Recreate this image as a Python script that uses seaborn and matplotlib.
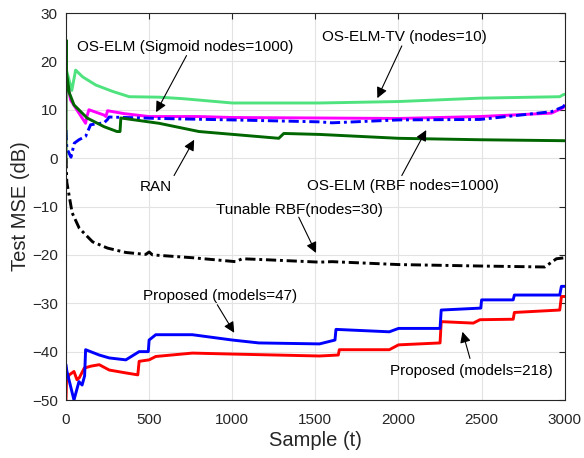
import numpy as np
import pandas as pd
import matplotlib
matplotlib.use("Agg")
import matplotlib.pyplot as plt
import seaborn as sns

# Learning curves: sample index t and test MSE in dB
tv_t = [0, 35, 58, 100, 180, 280, 380, 560, 700, 1000, 1300, 1525, 2000, 2490, 2970, 2990, 3000]
tv_v = [18.6, 14.0, 18.2, 16.8, 15.1, 13.8, 12.7, 12.6, 12.3, 11.4, 11.4, 11.4, 11.7, 12.4, 12.7, 13.1, 13.2]

sig_t = [0, 28, 78, 118, 125, 138, 229, 240, 250, 350, 500, 800, 1000, 1500, 2000, 2490, 2920, 2990, 3000]
sig_v = [16.8, 12.0, 9.3, 7.2, 8.5, 10.0, 8.9, 8.6, 9.8, 9.2, 8.6, 8.6, 8.4, 8.3, 8.2, 8.6, 9.3, 10.4, 10.8]

rbf_t = [0, 5, 30, 50, 78, 118, 148, 229, 250, 259, 560, 1000, 1525, 1600, 2000, 2490, 2920, 2990, 3000]
rbf_v = [5.8, 2.0, 0.2, 3.1, 3.8, 4.5, 6.9, 7.3, 8.0, 8.5, 8.2, 7.9, 7.5, 7.3, 7.9, 8.0, 9.6, 10.6, 11.0]

ran_t = [0, 1, 3, 20, 48, 127, 229, 307, 325, 330, 560, 800, 1280, 1310, 1525, 2000, 2490, 3000]
ran_v = [-1.0, 24.4, 17.6, 13.5, 11.0, 8.3, 6.5, 5.5, 5.5, 8.3, 7.2, 5.5, 4.1, 5.1, 4.9, 4.1, 3.8, 3.6]

tun_t = [0, 5, 37, 80, 160, 250, 360, 480, 500, 520, 765, 1020, 1060, 1200, 1525, 1600, 2000, 2490, 2880, 2950, 3000]
tun_v = [0.0, -5.0, -11.3, -14.5, -17.3, -18.6, -19.5, -19.9, -19.4, -20.0, -20.6, -21.4, -20.8, -21.0, -21.5, -21.4, -22.0, -22.3, -22.5, -20.8, -20.6]

p47_t = [0, 5, 48, 78, 97, 112, 118, 200, 260, 360, 440, 495, 500, 540, 760, 1000, 1160, 1525, 1618, 1624,
         1945, 2000, 2250, 2257, 2495, 2500, 2690, 2697, 2970, 2980, 3000]
p47_v = [-42.7, -44.0, -50.0, -46.2, -46.9, -45.0, -39.6, -40.7, -41.3, -41.7, -40.0, -40.0, -37.6, -36.5, -36.5,
         -37.6, -38.2, -38.4, -37.6, -35.4, -35.9, -35.2, -35.2, -31.4, -31.0, -29.3, -29.3, -28.3, -28.3, -26.5, -26.5]

p218_t = [0, 3, 20, 48, 66, 80, 110, 150, 200, 260, 360, 432, 440, 500, 540, 760, 1000, 1525, 1638, 1644,
          1945, 2000, 2250, 2257, 2450, 2490, 2690, 2697, 2970, 2980, 3000]
p218_v = [-50.0, -46.0, -44.8, -44.1, -45.8, -45.4, -43.4, -43.0, -42.7, -43.8, -44.4, -44.8, -42.0, -41.7, -41.0,
          -40.3, -40.5, -40.9, -40.7, -39.6, -39.6, -38.6, -38.2, -33.8, -34.1, -33.4, -33.3, -31.9, -31.4, -28.6, -28.6]

x_ticks = [0, 500, 1000, 1500, 2000, 2500, 3000]
y_ticks = [-50, -40, -30, -20, -10, 0, 10, 20, 30]

sns.set_style("white")
plt.rcParams["font.family"] = ["Liberation Sans", "DejaVu Sans"]

fig = plt.figure(figsize=(5.84, 4.58), dpi=100)
ax = fig.add_axes([0.113, 0.1266, 0.854, 0.845])

dashdot = (3.5, 1.3, 1.0, 1.3)
series = [
    (tv_t, tv_v, "#4fe37f", None),
    (sig_t, sig_v, "#ff00ff", None),
    (rbf_t, rbf_v, "#0000ff", dashdot),
    (ran_t, ran_v, "#006600", None),
    (tun_t, tun_v, "#000000", dashdot),
    (p218_t, p218_v, "#ff0000", None),
    (p47_t, p47_v, "#0000ff", None),
]
for t, v, c, dash in series:
    df = pd.DataFrame({"t": t, "mse": v})
    line_ax = sns.lineplot(data=df, x="t", y="mse", ax=ax, color=c, lw=2.1,
                           estimator=None, sort=False)
    if dash is not None:
        line_ax.lines[-1].set_dashes(dash)

ax.set_xlim(0, 3000)
ax.set_ylim(-50, 30)
ax.set_xticks(x_ticks)
ax.set_yticks(y_ticks)
ax.grid(True, color="#e3e3e3", lw=0.8)
ax.set_axisbelow(True)
for s in ax.spines.values():
    s.set_color("#262626")
    s.set_linewidth(0.8)
ax.tick_params(direction="in", length=4, width=0.8, labelsize=11, color="#262626",
               top=True, right=True, labelcolor="#262626")
ax.tick_params(axis="x", pad=9)
ax.tick_params(axis="y", pad=6)
ax.set_xlabel("Sample (t)", fontsize=14.5, color="#262626", labelpad=3)
ax.set_ylabel("Test MSE (dB)", fontsize=14.5, color="#262626", labelpad=1)

arrow = dict(arrowstyle="-|>", color="black", lw=0.8, mutation_scale=16, shrinkA=0, shrinkB=0)
notes = [
    ("OS-ELM (Sigmoid nodes=1000)", (542, 9.5), (714, 23.0), (725, 21.2)),
    ("OS-ELM-TV (nodes=10)", (1873, 12.4), (2036, 25.1), (2020, 23.2)),
    ("RAN", (771, 3.8), (542, -6.0), (650, -3.6)),
    ("OS-ELM (RBF nodes=1000)", (2167, 5.8), (2024, -5.7), (2020, -3.6)),
    ("Tunable RBF(nodes=30)", (1504, -19.6), (1407, -10.7), (1400, -12.2)),
    ("Proposed (models=47)", (1012, -36.1), (925, -28.6), (910, -30.3)),
    ("Proposed (models=218)", (2385, -35.9), (2440, -43.9), (2430, -41.4)),
]
for label, head, txt, tail in notes:
    ax.text(txt[0], txt[1], label, ha="center", va="center", fontsize=11, color="black")
    ax.annotate("", xy=head, xytext=tail, arrowprops=arrow)

fig.savefig("out.png", dpi=100)
